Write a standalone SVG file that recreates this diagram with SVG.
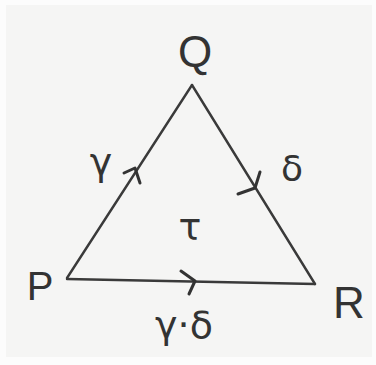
<svg xmlns="http://www.w3.org/2000/svg" width="376" height="365" viewBox="0 0 376 365">
<style>
.edge{stroke:#3a3a3a;stroke-width:2.4;fill:none;stroke-linecap:round}
.tip{stroke:#333;stroke-width:3;fill:none;stroke-linecap:round;stroke-linejoin:round}
.lbl{font-family:"Liberation Sans",sans-serif;fill:#333;text-anchor:middle}
.gk{font-family:"DejaVu Sans",sans-serif;fill:#333;text-anchor:middle}
</style>
<rect width="376" height="365" fill="#fcfcfc"/>
<rect x="6" y="5" width="366" height="352" fill="#f5f5f4"/>
<g id="connectors">
<line class="edge" x1="67" y1="278" x2="192" y2="85"/>
<line class="edge" x1="192" y1="85" x2="315" y2="284"/>
<line class="edge" x1="67" y1="279" x2="315" y2="284"/>
<polyline class="tip" points="124,173 135,168 140,183"/>
<polyline class="tip" points="238,194 255,188 260,172"/>
<polyline class="tip" points="181,271 195,281 189,294"/>
</g>
<g id="Q"><text class="lbl" x="195" y="67" font-size="44">Q</text></g>
<g id="P"><text class="lbl" x="40" y="300" font-size="40">P</text></g>
<g id="R"><text class="lbl" x="349" y="318" font-size="44">R</text></g>
<g id="gamma"><text class="gk" x="101" y="175" font-size="38">γ</text></g>
<g id="delta"><text class="gk" x="292" y="181" font-size="36">δ</text></g>
<g id="tau"><text class="gk" x="190" y="240" font-size="38">τ</text></g>
<g id="gammadelta"><text class="gk" x="184" y="338" font-size="38">γ·δ</text></g>
</svg>
